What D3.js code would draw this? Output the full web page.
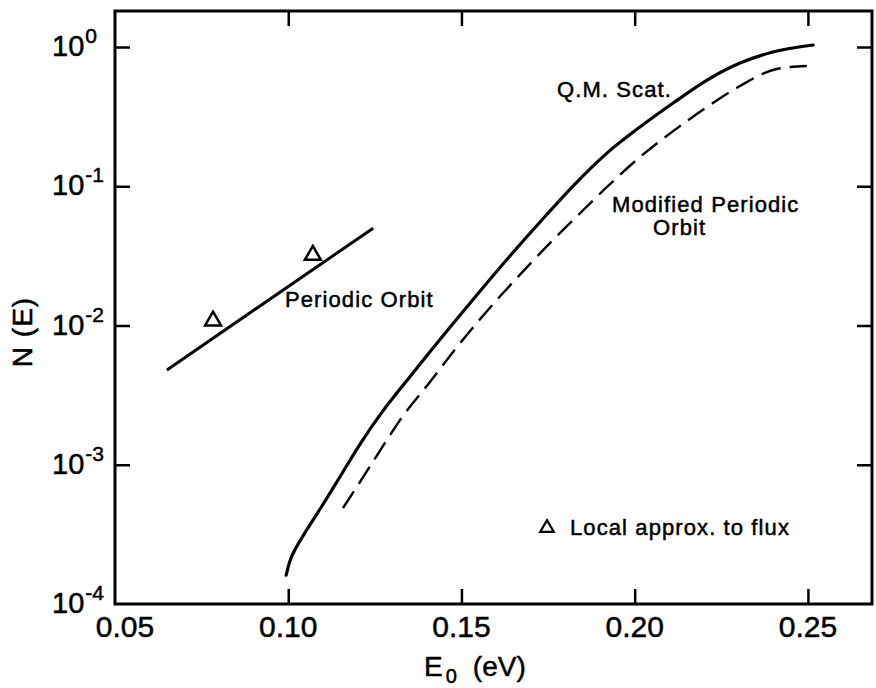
<!DOCTYPE html>
<html>
<head>
<meta charset="utf-8">
<script src="https://cdn.jsdelivr.net/npm/d3@7"></script>
<style>
  html, body { margin: 0; padding: 0; background: #fff; }
  svg { display: block; font-family: 'Liberation Sans', Arial, sans-serif; }
</style>
</head>
<body>
<svg id="chart" width="876" height="688"></svg>
<script>
// Q.M. scattering result (solid curve): E0 (eV) and N(E)
const qmEnergy = [0.0994, 0.1005, 0.1022, 0.1048, 0.1092, 0.1135, 0.1213, 0.1265, 0.1360, 0.1458, 0.1554,
  0.1640, 0.1727, 0.1822, 0.1920, 0.2015, 0.2111, 0.2209, 0.2304, 0.2399, 0.2515];
const qmN = [1.61e-4, 2.04e-4, 2.52e-4, 3.24e-4, 4.81e-4, 7.16e-4, 1.48e-3, 2.28e-3, 4.56e-3, 9.13e-3, 0.0177,
  0.0316, 0.0554, 0.1004, 0.173, 0.266, 0.396, 0.579, 0.767, 0.921, 1.034];

// Modified periodic orbit (dashed curve)
const modEnergy = [0.1158, 0.1222, 0.1285, 0.1323, 0.1409, 0.1487, 0.1554, 0.1620, 0.1698, 0.1764,
  0.1834, 0.1920, 0.2015, 0.2111, 0.2209, 0.2304, 0.2399, 0.2448, 0.2497];
const modN = [4.89e-4, 8.59e-4, 1.51e-3, 2.10e-3, 3.93e-3, 7.01e-3, 0.01113, 0.0171, 0.0277, 0.0411,
  0.0611, 0.0988, 0.162, 0.249, 0.371, 0.525, 0.684, 0.718, 0.731];

// Periodic orbit (straight line on the log plot)
const poEnergy = [0.065, 0.1245];
const poN = [0.0048, 0.050];

// Local approx. to flux (triangles)
const localEnergy = [0.0783, 0.1071];
const localN = [0.0108, 0.032];

// Tick values
const xTicks = [0.05, 0.10, 0.15, 0.20, 0.25];
const xTickLabels = ['0.05', '0.10', '0.15', '0.20', '0.25'];
const yTicks = [1, 1e-1, 1e-2, 1e-3, 1e-4];
const yTickExponents = ['0', '-1', '-2', '-3', '-4'];

const svg = d3.select('#chart');

// plot frame
const plotLeft = 115, plotRight = 872, plotTop = 11, plotBottom = 604;

const x = d3.scaleLinear().domain([0.05, 0.2685]).range([plotLeft, plotRight]);
const y = d3.scaleLog().domain([1e-4, 1.814]).range([plotBottom, plotTop]);

const TICK = 15;

// --- axes: ticks point inward on all four sides ---
function styleAxis(g) {
  g.select('.domain').remove();
  g.selectAll('.tick line').attr('stroke', '#000').attr('stroke-width', 2.5);
  g.selectAll('.tick text').remove();
}

svg.append('g')
  .attr('transform', `translate(0,${plotBottom})`)
  .call(d3.axisBottom(x).tickValues(xTicks.slice(1)).tickSize(-TICK))
  .call(styleAxis);

svg.append('g')
  .attr('transform', `translate(0,${plotTop})`)
  .call(d3.axisTop(x).tickValues(xTicks.slice(1)).tickSize(-TICK))
  .call(styleAxis);

svg.append('g')
  .attr('transform', `translate(${plotLeft},0)`)
  .call(d3.axisLeft(y).tickValues(yTicks.slice(0, 4)).tickSize(-TICK))
  .call(styleAxis);

svg.append('g')
  .attr('transform', `translate(${plotRight},0)`)
  .call(d3.axisRight(y).tickValues(yTicks.slice(0, 4)).tickSize(-TICK))
  .call(styleAxis);

// frame
svg.append('rect')
  .attr('x', plotLeft)
  .attr('y', plotTop)
  .attr('width', plotRight - plotLeft)
  .attr('height', plotBottom - plotTop)
  .attr('fill', 'none')
  .attr('stroke', '#000')
  .attr('stroke-width', 3);

// lettering is a little heavier than the regular face
const heavy = sel => sel
  .attr('stroke', '#000')
  .attr('stroke-width', 0.5);

// x tick labels (first one nudged right, clear of the y labels)
svg.append('g').selectAll('text')
  .data(xTicks)
  .join('text')
  .attr('x', (d, i) => x(d) + (i === 0 ? 10 : 0))
  .attr('y', plotBottom + 33)
  .attr('text-anchor', 'middle')
  .style('font-size', '30px')
  .call(heavy)
  .text((d, i) => xTickLabels[i]);

// y tick labels: 10 with a raised exponent
const yLabels = svg.append('g').selectAll('text')
  .data(yTicks)
  .join('text')
  .attr('x', 52)
  .attr('y', d => y(d) + 9)
  .style('font-size', '29px')
  .call(heavy);

yLabels.append('tspan').text('10');
yLabels.append('tspan')
  .attr('dx', 1)
  .attr('dy', -13)
  .style('font-size', '21px')
  .text((d, i) => yTickExponents[i]);

// axis titles
svg.append('text')
  .attr('transform', 'translate(32,332) rotate(-90)')
  .attr('text-anchor', 'middle')
  .style('font-size', '28px')
  .attr('letter-spacing', 1)
  .call(heavy)
  .text('N (E)');

const xTitle = svg.append('text')
  .attr('x', 424)
  .attr('y', 676)
  .style('font-size', '28px')
  .call(heavy);
xTitle.append('tspan').text('E');
xTitle.append('tspan').attr('dx', 3).attr('dy', 7).style('font-size', '20px').text('0');
xTitle.append('tspan').attr('dx', 16).attr('dy', -7).text('(eV)');

// --- curves ---
const line = d3.line()
  .x(d => x(d[0]))
  .y(d => y(d[1]))
  .curve(d3.curveMonotoneX);

svg.append('path')
  .datum(d3.zip(qmEnergy, qmN))
  .attr('d', line)
  .attr('fill', 'none')
  .attr('stroke', '#000')
  .attr('stroke-width', 3.2)
  .attr('stroke-linecap', 'round');

svg.append('path')
  .datum(d3.zip(modEnergy, modN))
  .attr('d', line)
  .attr('fill', 'none')
  .attr('stroke', '#000')
  .attr('stroke-width', 2.4)
  .attr('stroke-dasharray', '20,9');

svg.append('path')
  .datum(d3.zip(poEnergy, poN))
  .attr('d', d3.line().x(d => x(d[0])).y(d => y(d[1])))
  .attr('fill', 'none')
  .attr('stroke', '#000')
  .attr('stroke-width', 3);

// triangles
const tri = d3.symbol().type(d3.symbolTriangle).size(110);
svg.append('g').selectAll('path')
  .data(d3.zip(localEnergy, localN))
  .join('path')
  .attr('transform', d => `translate(${x(d[0])},${y(d[1])})`)
  .attr('d', tri)
  .attr('fill', '#fff')
  .attr('stroke', '#000')
  .attr('stroke-width', 2.5);

// --- curve labels ---
const labels = [
  { text: 'Q.M. Scat.', x: 557, y: 97 },
  { text: 'Modified Periodic', x: 612, y: 212 },
  { text: 'Orbit', x: 653, y: 235 },
  { text: 'Periodic Orbit', x: 285, y: 307 },
  { text: 'Local approx. to flux', x: 570, y: 535 }
];

svg.append('g').selectAll('text')
  .data(labels)
  .join('text')
  .attr('x', d => d.x)
  .attr('y', d => d.y)
  .attr('letter-spacing', 1.1)
  .style('font-size', '22px')
  .call(heavy)
  .text(d => d.text);

// legend triangle
svg.append('path')
  .attr('transform', 'translate(547,528)')
  .attr('d', d3.symbol().type(d3.symbolTriangle).size(80))
  .attr('fill', '#fff')
  .attr('stroke', '#000')
  .attr('stroke-width', 2.2);
</script>
</body>
</html>
